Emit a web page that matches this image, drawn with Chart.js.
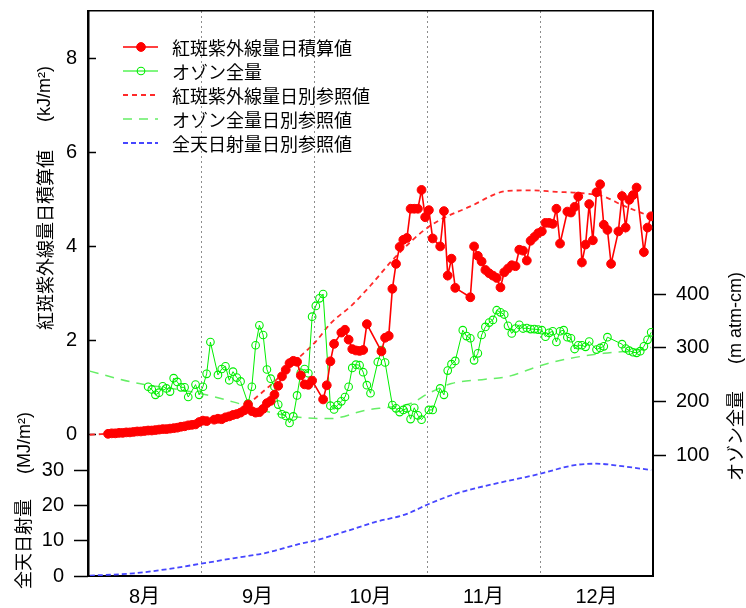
<!DOCTYPE html>
<html>
<head>
<meta charset="utf-8">
<script src="https://cdn.jsdelivr.net/npm/chart.js@4.4.1/dist/chart.umd.min.js"></script>
<style>
  html, body { margin: 0; padding: 0; background: #fff; }
  canvas { display: block; }
</style>
</head>
<body>
<canvas id="uvChart" width="746" height="608"></canvas>
<script>
const monthLabels = ['8月', '9月', '10月', '11月', '12月'];
const monthLengths = [31, 30, 31, 30, 31];
const xTickValues = [0.5, 1, 1.5, 2, 2.5, 3, 3.5, 4, 4.5];

// 紅斑紫外線量日積算値 (kJ/m2), one value per day from uvStart, null = no data
const uvStart = '8/6';
const uvDaily = [
    // Aug 6-31
    0.02, 0.03, 0.03, 0.04, 0.04, 0.05, 0.05, 0.06, 0.07, 0.07, 0.08, 0.09, 0.09,
    0.10, 0.11, 0.12, 0.12, 0.13, 0.14, 0.15, 0.17, 0.18, 0.20, 0.21, 0.22, 0.27,
    // Sep
    0.30, 0.29, null, 0.32, 0.34, 0.33, 0.37, 0.39, 0.42, 0.44, 0.47, 0.52, 0.64, 0.50, 0.47,
    0.48, 0.55, 0.67, 0.72, 0.85, 1.04, 1.24, 1.38, 1.52, 1.57, 1.55, 1.26, 1.07, 1.06, 1.15,
    // Oct
    null, null, 0.75, 1.05, 1.56, 1.93, null, 2.17, 2.23, 2.02, 1.82, 1.79, 1.78, 1.80, 2.35, null,
    null, null, 1.77, 2.06, 2.10, 3.10, 3.63, 3.99, 4.14, 4.18, 4.80, 4.80, 4.80, 5.20, 4.62,
    // Nov
    4.77, 4.17, null, 4.00, 4.75, 3.38, 3.74, 3.12, null, null, null, 2.92, 4.00, 3.80, 3.68,
    3.50, 3.43, 3.38, 3.33, 3.13, 3.45, 3.53, 3.60, 3.58, 3.93, 3.91, 3.70, 4.12, 4.20, 4.28,
    // Dec
    4.32, 4.50, 4.50, 4.48, 4.80, 4.06, null, 4.74, 4.72, 4.84, 5.06, 3.66, 4.04, 4.90, 4.13, 5.15,
    5.32, 4.46, 4.35, 3.63, null, 4.32, 5.07, 4.40, 4.99, 5.09, 5.25, null, 3.88, 4.40, 4.64
];

// オゾン全量 (m atm-cm), one value per day from ozoneStart
const ozoneStart = '8/17';
const ozoneDaily = [
    // Aug 17-31
    228, 223, 213, 217, 229, 225, 219, 244, 237, 227, 227, 209, null, 232, 213,
    // Sep
    228, 252, 311, null, 250, 261, 266, 240, 256, 245, 238, null, 197, 228, 305,
    342, 324, 260, 243, 228, 195, 177, 174, 161, 173, 212, 254, 261, 253, 358,
    // Oct
    378, 392, 400, null, 193, 186, 194, 201, 209, 228, 263, 269, 268, 255, 231, 216,
    null, 274, 296, 273, null, 194, 188, 181, 185, 188, 168, 189, 175, 167, null,
    // Nov
    185, 185, null, 225, 213, 258, 270, 276, null, 333, 322, 318, 277, 290, 324,
    339, 347, 352, 370, 366, 362, 341, 327, 336, 343, 336, 337, 335, 335, 334,
    // Dec
    333, 321, 328, 331, 311, 331, 333, 320, 318, 298, 305, 305, 302, 312, null, 297,
    300, 303, 320, null, null, null, 307, 299, 295, 292, 291, 294, 303, 315, 329
];

// reference curves
const uvRefDates = ['8/1', '8/10', '8/20', '9/1', '9/10', '9/16', '9/20', '9/26', '10/1', '10/5', '10/11',
    '10/16', '10/23', '11/1', '11/12', '11/22', '11/28', '12/5', '12/12', '12/18', '12/23', '12/31'];
const uvRefValues = [0.00, 0.04, 0.11, 0.26, 0.48, 0.85, 1.13, 1.60, 1.98, 2.36, 2.76,
    3.17, 3.79, 4.42, 4.85, 5.18, 5.19, 5.16, 5.13, 5.06, 4.88, 4.63];

const ozoneRefDates = ['8/1', '8/13', '8/31', '9/9', '9/18', '9/26', '10/5', '10/15', '10/21', '10/27',
    '11/1', '11/7', '11/16', '11/22', '12/1', '12/9', '12/18', '12/27', '12/31'];
const ozoneRefValues = [257, 236, 216, 200, 182, 172, 169, 185, 190, 197,
    216, 234, 242, 247, 268, 281, 290, 296, 301];

const solarRefDates = ['8/1', '8/13', '8/22', '8/31', '9/9', '9/18', '9/26', '10/1', '10/10', '10/17',
    '10/26', '11/1', '11/9', '11/18', '11/30', '12/10', '12/16', '12/23', '12/31'];
const solarRefValues = [0.1, 0.75, 1.9, 3.4, 5.0, 6.6, 8.9, 10.1, 12.9, 15.2,
    17.6, 20.4, 23.6, 26.0, 28.8, 31.4, 31.8, 31.1, 30.0];

const uvTicks = [0, 2, 4, 6, 8];
const solarTicks = [0, 10, 20, 30];
const ozoneTicks = [100, 200, 300, 400];

function datePos(str) {
    const [m, d] = str.split('/').map(Number);
    return (m - 8) + (d - 0.5) / monthLengths[m - 8];
}

function dailyPoints(start, values) {
    let [m, d] = start.split('/').map(Number);
    const pts = [];
    values.forEach(v => {
        pts.push({ x: datePos(m + '/' + d), y: v });
        d++;
        if (d > monthLengths[m - 8]) { d = 1; m++; }
    });
    return pts;
}

function refPoints(dates, values) {
    return dates.map((s, i) => ({ x: datePos(s), y: values[i] }));
}

const tickFont = { family: '"Liberation Sans", "Noto Sans CJK JP", sans-serif', size: 20 };
const fixedTicks = list => scale => { scale.ticks = list.map(v => ({ value: v })); };

// force the box size and drop the label paddings so the plot area lands where it should
const boxSize = (w, h, noClip) => s => {
    if (w !== null) s.width = w;
    if (h !== null) s.height = h;
    s.paddingTop = s.paddingBottom = s.paddingLeft = s.paddingRight = 0;
    if (noClip) s._computeLabelArea = () => null;
};

// axis titles drawn rotated, reading bottom to top
const axisTitles = {
    id: 'axisTitles',
    afterDraw(chart) {
        const c = chart.ctx;
        const up = (text, x, yBottom, font) => {
            c.save();
            c.translate(x, yBottom);
            c.rotate(-Math.PI / 2);
            c.font = font;
            c.fillStyle = '#000';
            c.textAlign = 'left';
            c.textBaseline = 'middle';
            c.fillText(text, 0, 0);
            c.restore();
        };
        const jp = '18px "Noto Sans CJK JP"';
        const lat = '18px "Liberation Sans"';
        up('紅斑紫外線量日積算値', 45, 330, jp);
        up('(kJ/m²)', 45, 122, lat);
        up('全天日射量', 23, 589, jp);
        up('(MJ/m²)', 25, 474, lat);
        up('オゾン全量', 735, 481, jp);
        up('(m atm-cm)', 736, 364, lat);
    }
};

const legendRows = {
    id: 'legendRows',
    afterDraw(chart) {
        const c = chart.ctx;
        c.save();
        chart.data.datasets.forEach((ds, i) => {
            const y = 47 + i * 24;
            c.strokeStyle = ds.borderColor;
            c.lineWidth = ds.borderWidth;
            c.setLineDash(ds.borderDash || []);
            c.beginPath();
            c.moveTo(123, y);
            c.lineTo(158, y);
            c.stroke();
            c.setLineDash([]);
            if (ds.pointRadius > 0) {
                c.beginPath();
                c.arc(141, y, ds.pointRadius, 0, Math.PI * 2);
                c.fillStyle = ds.pointBackgroundColor;
                c.fill();
                c.lineWidth = ds.pointBorderWidth;
                c.stroke();
            }
            c.fillStyle = '#000';
            c.font = '18px "Noto Sans CJK JP"';
            c.textBaseline = 'middle';
            c.fillText(ds.label, 172, y + 1);
        });
        c.restore();
    }
};

const ctx = document.getElementById('uvChart').getContext('2d');

const uvChart = new Chart(ctx, {
    type: 'line',
    data: {
        datasets: [
            {
                label: '紅斑紫外線量日積算値',
                data: dailyPoints(uvStart, uvDaily),
                yAxisID: 'yUV',
                borderColor: '#ff0000',
                backgroundColor: '#ff0000',
                pointBackgroundColor: '#ff0000',
                borderWidth: 1.6,
                pointRadius: 4.4,
                pointBorderWidth: 1,
                spanGaps: true,
                clip: 0,
            },
            {
                label: 'オゾン全量',
                data: dailyPoints(ozoneStart, ozoneDaily),
                yAxisID: 'yO3',
                borderColor: '#00ee00',
                pointBackgroundColor: 'rgba(0,0,0,0)',
                borderWidth: 1,
                pointRadius: 3.8,
                pointBorderWidth: 1.1,
                spanGaps: true,
                clip: 0,
            },
            {
                label: '紅斑紫外線量日別参照値',
                data: refPoints(uvRefDates, uvRefValues),
                yAxisID: 'yUV',
                borderColor: '#ff2a2a',
                borderWidth: 1.8,
                borderDash: [5, 4],
                pointRadius: 0,
                cubicInterpolationMode: 'monotone',
                clip: 0,
            },
            {
                label: 'オゾン全量日別参照値',
                data: refPoints(ozoneRefDates, ozoneRefValues),
                yAxisID: 'yO3',
                borderColor: '#66ee66',
                borderWidth: 1.5,
                borderDash: [9, 7],
                pointRadius: 0,
                cubicInterpolationMode: 'monotone',
                clip: 0,
            },
            {
                label: '全天日射量日別参照値',
                data: refPoints(solarRefDates, solarRefValues),
                yAxisID: 'ySolar',
                borderColor: '#4646ff',
                borderWidth: 1.8,
                borderDash: [5, 3],
                pointRadius: 0,
                cubicInterpolationMode: 'monotone',
                clip: 0,
            },
        ],
    },
    options: {
        responsive: false,
        animation: false,
        devicePixelRatio: 1,
        layout: { padding: 0 },
        plugins: {
            legend: { display: false },
            tooltip: { enabled: false },
        },
        scales: {
            x: {
                type: 'linear',
                position: 'bottom',
                min: 0,
                max: 5,
                afterBuildTicks: fixedTicks(xTickValues),
                afterFit: boxSize(null, 32),
                ticks: {
                    autoSkip: false,
                    maxRotation: 0,
                    padding: 9,
                    font: tickFont,
                    color: '#000',
                    callback: v => Number.isInteger(v) ? '' : monthLabels[Math.floor(v)],
                },
                grid: {
                    drawTicks: false,
                    lineWidth: 1,
                    color: c => (c.tick && Number.isInteger(c.tick.value)) ? '#8c8c8c' : 'rgba(0,0,0,0)',
                },
                border: { display: true, color: '#000', width: 2, dash: [2, 3] },
            },
            xTop: {
                type: 'linear',
                position: 'top',
                min: 0,
                max: 5,
                afterFit: boxSize(null, 11),
                ticks: { display: false },
                grid: { display: false },
                border: { display: true, color: '#000', width: 1.5 },
            },
            yUV: {
                type: 'linear',
                position: 'left',
                weight: 1,
                min: -3,
                max: 9,
                afterBuildTicks: fixedTicks(uvTicks),
                afterFit: boxSize(88, null),
                ticks: { padding: 19, font: tickFont, color: '#000' },
                grid: { drawOnChartArea: false, drawTicks: true, tickLength: -8, tickColor: '#000', tickWidth: 1.5 },
                border: { display: true, color: '#000', width: 2.5 },
            },
            ySolar: {
                type: 'linear',
                position: 'left',
                weight: 0,
                min: 0,
                max: 160,
                afterBuildTicks: fixedTicks(solarTicks),
                afterFit: boxSize(0, null, true),
                ticks: { padding: 10, font: tickFont, color: '#000' },
                grid: { drawOnChartArea: false, drawTicks: true, tickLength: 14, tickColor: '#000', tickWidth: 1.5 },
                border: { display: false },
            },
            yO3: {
                type: 'linear',
                position: 'right',
                min: -123,
                max: 925,
                afterBuildTicks: fixedTicks(ozoneTicks),
                afterFit: boxSize(93, null),
                ticks: { padding: 10, font: tickFont, color: '#000' },
                grid: { drawOnChartArea: false, drawTicks: true, tickLength: 13, tickColor: '#000', tickWidth: 1.5 },
                border: { display: true, color: '#000', width: 2 },
            },
        },
    },
    plugins: [axisTitles, legendRows],
});
</script>
</body>
</html>
